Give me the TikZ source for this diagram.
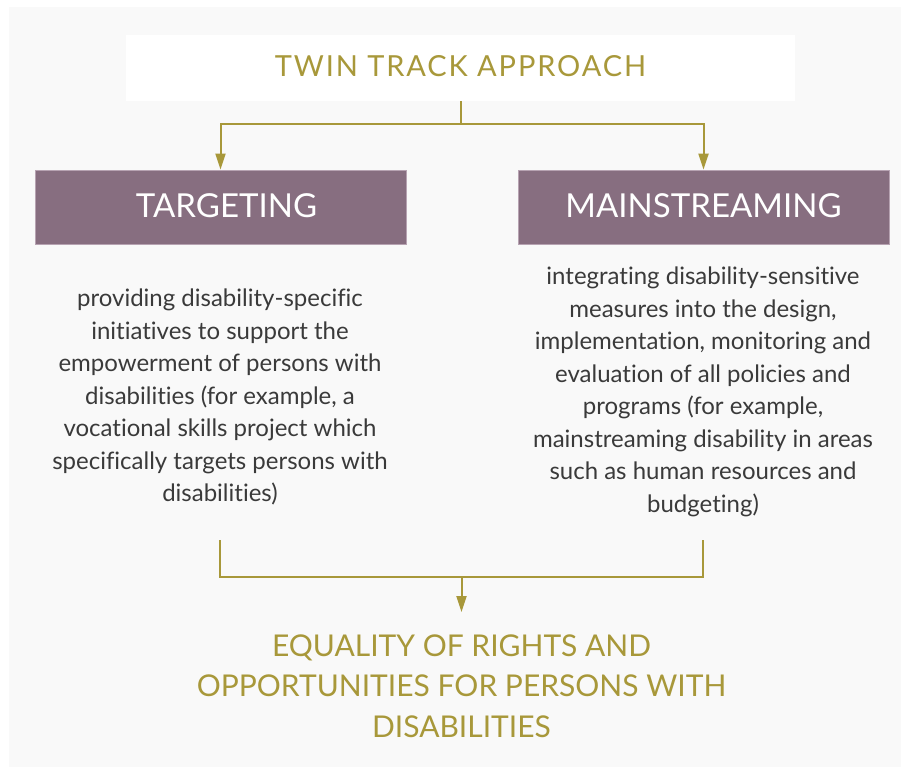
\documentclass[tikz,border=0pt]{standalone}
\usepackage{fontspec}
\setmainfont[Ligatures={NoCommon}]{Lato}
\usetikzlibrary{arrows.meta}
\definecolor{gold}{HTML}{A8983A}
\definecolor{plum}{HTML}{876E80}
\definecolor{plumedge}{HTML}{B7A3B2}
\definecolor{bggray}{HTML}{F9F9F9}
\definecolor{bodytext}{HTML}{3A3A3A}
\tikzset{
  conn/.style={draw=gold, line width=2pt},
  arr/.style={conn, -{Triangle[width=10pt,length=16pt]}},
  headbox/.style={fill=plum, draw=plumedge, line width=0.8pt, minimum width=371pt, minimum height=74pt, text=white, font=\fontsize{33}{40}\selectfont, inner sep=0pt},
  bodytxt/.style={text=bodytext, align=center, font=\fontsize{24}{32.5}\selectfont, inner sep=0pt},
  goldtxt/.style={text=gold, align=center, font=\fontsize{30}{40.5}\selectfont, inner sep=0pt}
}
\begin{document}
\begin{tikzpicture}[x=1pt,y=-1pt]
\useasboundingbox (0,0) rectangle (901,767);
\fill[white] (0,0) rectangle (901,767);
\fill[bggray] (9,7) rectangle (901,767);
\node[fill=white, minimum width=669pt, minimum height=66pt, inner sep=0pt, text=gold, font=\fontsize{29}{35}\selectfont\addfontfeature{LetterSpace=6.5}] (title) at (460.5,68) {\raisebox{5pt}{TWIN TRACK APPROACH}};
\node[headbox] (targ) at (220.5,207) {\hspace*{12pt}\raisebox{2pt}{TARGETING}};
\node[headbox] (main) at (703.5,207) {\raisebox{2pt}{MAINSTREAMING}};
\node[bodytxt] (ltext) at (220,397) {providing disability-specific\\initiatives to support the\\empowerment of persons with\\disabilities (for example, a\\vocational skills project which\\specifically targets persons with\\disabilities)};
\node[bodytxt] (rtext) at (703,392) {integrating disability-sensitive\\measures into the design,\\implementation, monitoring and\\evaluation of all policies and\\programs (for example,\\mainstreaming disability in areas\\such as human resources and\\budgeting)};
\node[goldtxt, anchor=north] (eq) at (461.5,612) {\rule{0pt}{44pt}EQUALITY OF RIGHTS AND\\OPPORTUNITIES FOR PERSONS WITH\\DISABILITIES};
\coordinate (j1) at (460.5,124);
\coordinate (lb) at (220,540);
\coordinate (rb) at (703,540);
\coordinate (j2) at (461.5,577);
\draw[conn] (title.south) -- (j1);
\draw[arr] (j1) -| (targ.north);
\draw[arr] (j1) -| (main.north);
\draw[conn] (lb) |- (j2);
\draw[conn] (rb) |- (j2);
\draw[arr] (j2) -- (eq.north);
\end{tikzpicture}
\end{document}
